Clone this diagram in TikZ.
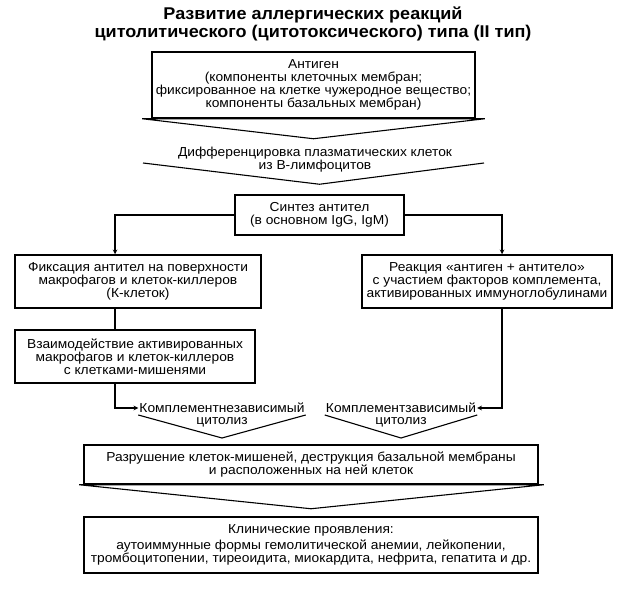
\documentclass[tikz,border=0pt]{standalone}
\usepackage{fontspec}
\setmainfont{Liberation Sans}[FakeStretch=1.06]
\usepackage{tikz}
\usetikzlibrary{arrows}
\tikzstyle{process} = [rectangle, line width=1.5pt, draw=black, align=center, inner sep=0pt]
\tikzstyle{label} = [align=center, inner sep=1pt]
\tikzstyle{arrow} = [line width=1.1pt,->,>=stealth]
\tikzstyle{line} = [line width=1.1pt]
\tikzstyle{chevron} = [line width=1.1pt, line join=miter]

\begin{document}
\begin{tikzpicture}[x=1pt, y=-1pt, font=\fontsize{13}{12.8}\selectfont]
                        \useasboundingbox (0,0) rectangle (640,604);
                        \node (title) at (313,24) [align=center, font=\bfseries\fontsize{17}{17.5}\selectfont] {Развитие аллергических реакций\\цитолитического (цитотоксического) типа (II тип)};
                        \node (antigen) at (313.5,85) [process, minimum width=323, minimum height=66] {Антиген\\(компоненты клеточных мембран;\\фиксированное на клетке чужеродное вещество;\\компоненты базальных мембран)};
                        \draw [chevron] ([xshift=-9]antigen.south west) -- ([xshift=9]antigen.south east) -- ([yshift=-20]antigen.south) -- cycle;
                        \node (diff) at (315,160) [label] {Дифференцировка плазматических клеток\\из В-лимфоцитов};
                        \node (synth) at (319.5,215) [process, minimum width=169, minimum height=40] {Синтез антител\\(в основном IgG, IgM)};
                        \coordinate (vleft) at (143,163);
                        \coordinate (vright) at (484,163);
                        \draw [chevron] (vleft) -- ([yshift=10]synth.north) -- (vright);
                        % two branches
                        \coordinate (lx) at (115,0);
                        \coordinate (rx) at (502,0);
                        \node (fix) at (138,281.5) [process, minimum width=246, minimum height=53] {Фиксация антител на поверхности\\макрофагов и клеток-киллеров\\(К-клеток)};
                        \node (react) at (487,281.5) [process, minimum width=250, minimum height=53] {Реакция «антиген + антитело»\\с участием факторов комплемента,\\активированных иммуноглобулинами};
                        \draw [arrow] (synth.west) -| (fix.north -| lx);
                        \draw [arrow] (synth.east) -| (react.north -| rx);
                        \node (vzaim) at (135,356.5) [process, minimum width=240, minimum height=53] {Взаимодействие активированных\\макрофагов и клеток-киллеров\\с клетками-мишенями};
                        \draw [line] (fix.south -| lx) -- (vzaim.north -| lx);
                        \node (indep) at (222,415) [label] {Комплементнезависимый\\цитолиз};
                        \node (dep) at (401,415) [label] {Комплементзависимый\\цитолиз};
                        \draw [arrow] (vzaim.south -| lx) |- ([yshift=7]indep.west);
                        \draw [arrow] (react.south -| rx) |- ([yshift=7]dep.east);
                        \draw [chevron] (indep.west) -- ([yshift=-23]indep.center) -- (indep.east);
                        \draw [chevron] (dep.west) -- ([yshift=-23]dep.center) -- (dep.east);
                        \node (destr) at (311,464.5) [process, minimum width=454, minimum height=39] {Разрушение клеток-мишеней, деструкция базальной мембраны\\и расположенных на ней клеток};
                        \draw [chevron] ([xshift=-4]destr.south west) -- ([xshift=5]destr.south east) -- ([yshift=-24]destr.south) -- cycle;
                        \node (clin) at (311,545) [process, minimum width=454, minimum height=56] {Клинические проявления:\\[3pt]аутоиммунные формы гемолитической анемии, лейкопении,\\тромбоцитопении, тиреоидита, миокардита, нефрита, гепатита и др.};
                    \end{tikzpicture}
\end{document}
